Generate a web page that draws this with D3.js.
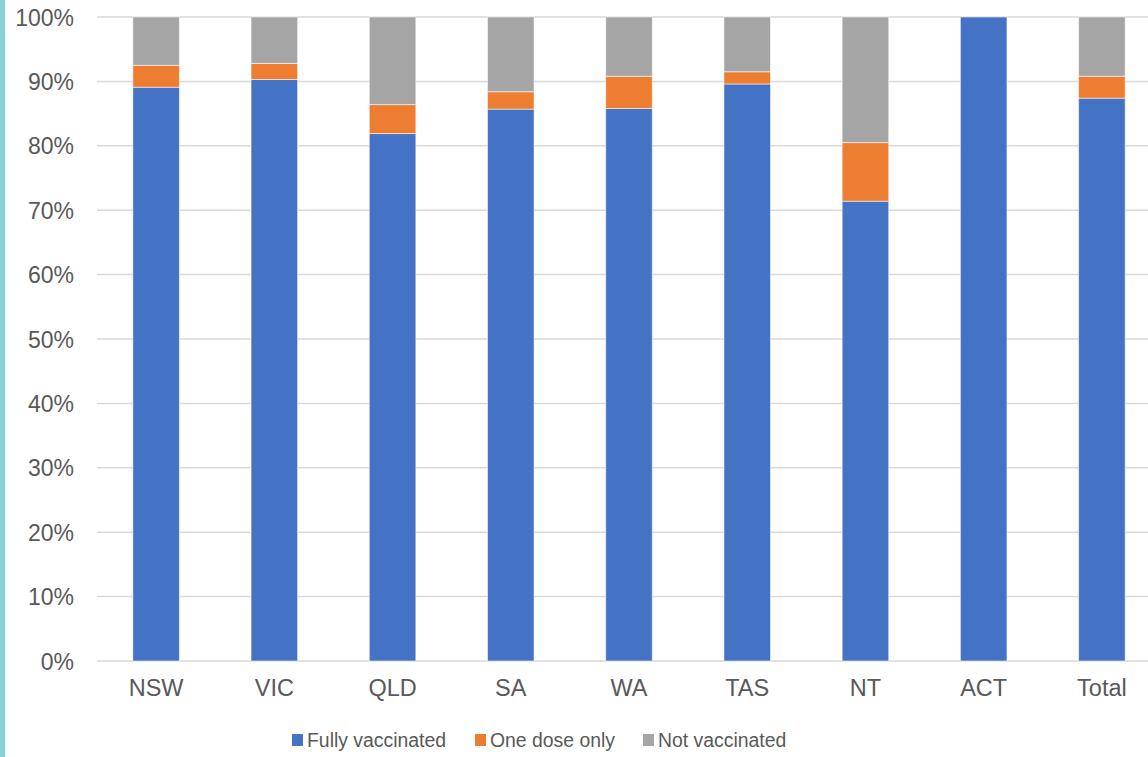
<!DOCTYPE html>
<html>
<head>
<meta charset="utf-8">
<script src="https://cdn.jsdelivr.net/npm/d3@7"></script>
<style>
  body { margin: 0; background: #fff; }
  svg { display: block; font-family: "Liberation Sans", Arial, sans-serif; }
  .tick text { fill: #595959; }
</style>
</head>
<body>
<div id="chart"></div>
<script>

var states = ["NSW", "VIC", "QLD", "SA", "WA", "TAS", "NT", "ACT", "Total"];
var fully = [89.1, 90.3, 81.9, 85.7, 85.8, 89.6, 71.4, 100, 87.4];
var oneDose = [3.4, 2.5, 4.5, 2.7, 5.0, 1.9, 9.1, 0, 3.4];
var notVacc = [7.5, 7.2, 13.6, 11.6, 9.2, 8.5, 19.5, 0, 9.2];
var seriesNames = ["Fully vaccinated", "One dose only", "Not vaccinated"];
var yTicks = [0, 10, 20, 30, 40, 50, 60, 70, 80, 90, 100];

var colors = ["#4472C4", "#ED7D31", "#A5A5A5"];

function drawChart () {
    var W = 1148, H = 757;
    var margin = {top: 17, right: -13, bottom: 96, left: 97},
        width = W - margin.left - margin.right,
        height = H - margin.top - margin.bottom;

    var svg = d3.select("#chart").append("svg")
        .attr("width", W)
        .attr("height", H);

    // teal stripe on the left edge
    svg.append("rect")
        .attr("x", 0).attr("y", 0)
        .attr("width", 5).attr("height", H)
        .attr("fill", "#86D0D8");

    var g = svg.append("g")
        .attr("transform", "translate(" + margin.left + "," + margin.top + ")");

    var x = d3.scaleBand()
        .domain(states)
        .range([0, width])
        .paddingInner(0.606)
        .paddingOuter(0.303);

    var y = d3.scaleLinear()
        .domain([0, 100])
        .range([height, 0]);

    // gridlines
    g.append("g").selectAll("line")
        .data(yTicks)
        .enter().append("line")
            .attr("x1", 0).attr("x2", width)
            .attr("y1", function(d) { return y(d); })
            .attr("y2", function(d) { return y(d); })
            .attr("stroke", "#D9D9D9")
            .attr("stroke-width", 1.5);

    var rows = states.map(function(s, i) {
        return {state: s, fully: fully[i], one: oneDose[i], not: notVacc[i]};
    });
    var stack = d3.stack().keys(["fully", "one", "not"])(rows);

    g.append("g").selectAll("g")
        .data(stack)
        .enter().append("g")
            .attr("fill", function(d, i) { return colors[i]; })
        .selectAll("rect")
        .data(function(d) { return d; })
        .enter().append("rect")
            .attr("x", function(d) { return x(d.data.state); })
            .attr("width", x.bandwidth())
            .attr("y", function(d) { return y(d[1]); })
            .attr("height", function(d) { return y(d[0]) - y(d[1]); })
            .attr("stroke", "rgba(255,255,255,0.55)")
            .attr("stroke-width", 1);

    // y axis
    var yAxis = g.append("g")
        .call(d3.axisLeft(y).tickValues(yTicks)
            .tickFormat(function(d) { return d + "%"; })
            .tickSize(0).tickPadding(23));
    yAxis.select(".domain").remove();
    yAxis.selectAll("text").attr("font-size", "23px").attr("dy", "0.35em");

    // x axis
    var xAxis = g.append("g")
        .attr("transform", "translate(0," + height + ")")
        .call(d3.axisBottom(x).tickSize(0).tickPadding(18));
    xAxis.select(".domain").remove();
    xAxis.selectAll("text").attr("font-size", "23.5px");

    // legend
    var legX = [292, 475, 643];
    var leg = svg.append("g").selectAll("g")
        .data(seriesNames)
        .enter().append("g")
            .attr("transform", function(d, i) { return "translate(" + legX[i] + ",734)"; });
    leg.append("rect")
        .attr("width", 11).attr("height", 12)
        .attr("fill", function(d, i) { return colors[i]; });
    leg.append("text")
        .attr("x", 15).attr("y", 13)
        .attr("font-size", "19.4px")
        .attr("fill", "#595959")
        .text(function(d) { return d; });
}

drawChart();
</script>
</body>
</html>
